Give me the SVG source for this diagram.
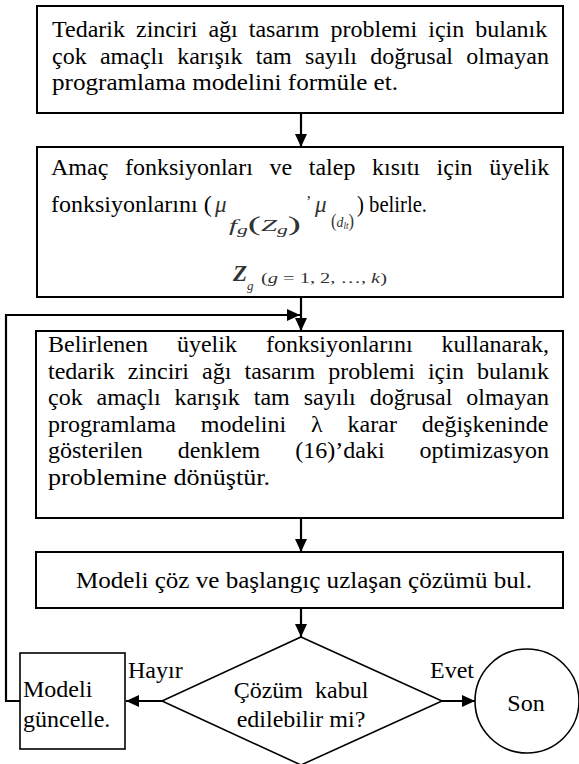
<svg xmlns="http://www.w3.org/2000/svg" width="579" height="764" viewBox="0 0 579 764">
<style>
.box{fill:#fff;stroke:#000;stroke-width:2}
.thin{fill:#fff;stroke:#000;stroke-width:1.6}
.t{font-family:"Liberation Serif","Times New Roman",serif;font-size:24px;fill:#000}
.m{font-family:"Liberation Serif","Times New Roman",serif;fill:#333}
.c{fill:none;stroke:#000;stroke-width:2.2}
.pre{white-space:pre}
</style>
<defs>
<marker id="ah" markerUnits="userSpaceOnUse" markerWidth="13" markerHeight="12" refX="13" refY="6" orient="auto">
<path d="M0,0 L13,6 L0,12 z" fill="#000"/>
</marker>
</defs>
<g id="connectors">
<line class="c" x1="301" y1="113" x2="301" y2="147" marker-end="url(#ah)"/>
<line class="c" x1="301" y1="297" x2="301" y2="331" marker-end="url(#ah)"/>
<line class="c" x1="301" y1="518" x2="301" y2="552" marker-end="url(#ah)"/>
<line class="c" x1="301" y1="608" x2="301" y2="637" marker-end="url(#ah)"/>
<line class="c" x1="162" y1="701" x2="126" y2="701" marker-end="url(#ah)"/>
<line class="c" x1="442" y1="701" x2="475" y2="701" marker-end="url(#ah)"/>
<polyline class="c" points="20,701 6,701 6,315 300,315" marker-end="url(#ah)"/>
</g>
<g id="n1">
<rect class="box" x="37" y="6" width="526" height="107"/>
<text class="t" x="52" y="37" word-spacing="5.07">Tedarik zinciri ağı tasarım problemi için bulanık</text>
<text class="t" x="52" y="63.5" word-spacing="7.28">çok amaçlı karışık tam sayılı doğrusal olmayan</text>
<text class="t" x="52" y="90" textLength="346" lengthAdjust="spacingAndGlyphs">programlama modelini formüle et.</text>
</g>
<g id="n2">
<rect class="box" x="37" y="147" width="526" height="150"/>
<text class="t" x="51" y="175" word-spacing="10.6">Amaç fonksiyonları ve talep kısıtı için üyelik</text>
<text class="t" x="51" y="212">fonksiyonlarını (</text>
<text class="m" x="215" y="212" font-size="23" font-style="italic">μ</text>
<text class="m" x="229" y="231" font-size="16" textLength="72" lengthAdjust="spacingAndGlyphs"><tspan font-style="italic">f</tspan><tspan font-style="italic" font-size="12" dy="3">g</tspan><tspan font-size="22" dy="-3">(</tspan><tspan font-style="italic">Z</tspan><tspan font-style="italic" font-size="12" dy="3">g</tspan><tspan font-size="22" dy="-3">)</tspan></text>
<text class="m" x="306" y="207" font-size="16">’</text>
<text class="m" x="315" y="212" font-size="23" font-style="italic">μ</text>
<text class="m" x="331" y="227" font-size="15" textLength="23" lengthAdjust="spacingAndGlyphs"><tspan font-size="18">(</tspan><tspan font-style="italic">d</tspan><tspan font-style="italic" font-size="10" dy="2">lt</tspan><tspan font-size="18" dy="-2">)</tspan></text>
<text class="t" x="357" y="212" textLength="70" lengthAdjust="spacingAndGlyphs">) belirle.</text>
<text class="m" x="233" y="281" font-size="23" font-style="italic" font-weight="bold" fill="#000">Z</text>
<text class="m" x="247" y="290" font-size="13" font-style="italic">g</text>
<text class="m" x="261" y="283" font-size="14" textLength="126" lengthAdjust="spacingAndGlyphs">(<tspan font-style="italic">g</tspan> = 1, 2, …, <tspan font-style="italic">k</tspan>)</text>
</g>
<g id="n3">
<rect class="box" x="36" y="331" width="527" height="187"/>
<text class="t" x="48" y="352" word-spacing="23">Belirlenen üyelik fonksiyonlarını kullanarak,</text>
<text class="t" x="48" y="378.5" word-spacing="7.07">tedarik zinciri ağı tasarım problemi için bulanık</text>
<text class="t" x="48" y="405" word-spacing="7.95">çok amaçlı karışık tam sayılı doğrusal olmayan</text>
<text class="t" x="48" y="431.5" word-spacing="18.9">programlama modelini λ karar değişkeninde</text>
<text class="t" x="48" y="458" word-spacing="29">gösterilen denklem (16)’daki optimizasyon</text>
<text class="t" x="48" y="484.5" textLength="222" lengthAdjust="spacingAndGlyphs">problemine dönüştür.</text>
</g>
<g id="n4">
<rect class="box" x="36" y="552" width="527" height="56"/>
<text class="t" x="76" y="588" textLength="456" lengthAdjust="spacingAndGlyphs">Modeli çöz ve başlangıç uzlaşan çözümü bul.</text>
</g>
<g id="n5">
<polygon class="thin" points="301,637 442,701 301,765 162,701"/>
<text class="t pre" x="301" y="698" text-anchor="middle">Çözüm  kabul</text>
<text class="t" x="301" y="727" text-anchor="middle">edilebilir mi?</text>
</g>
<g id="n6">
<rect class="thin" x="20" y="653" width="105" height="96"/>
<text class="t" x="23" y="697">Modeli</text>
<text class="t" x="23" y="727">güncelle.</text>
</g>
<g id="n7">
<circle class="thin" cx="527" cy="701" r="52"/>
<text class="t" x="526" y="711" text-anchor="middle">Son</text>
</g>
<g id="labels">
<text class="t" x="128" y="678">Hayır</text>
<text class="t" x="430" y="678">Evet</text>
</g>
</svg>
